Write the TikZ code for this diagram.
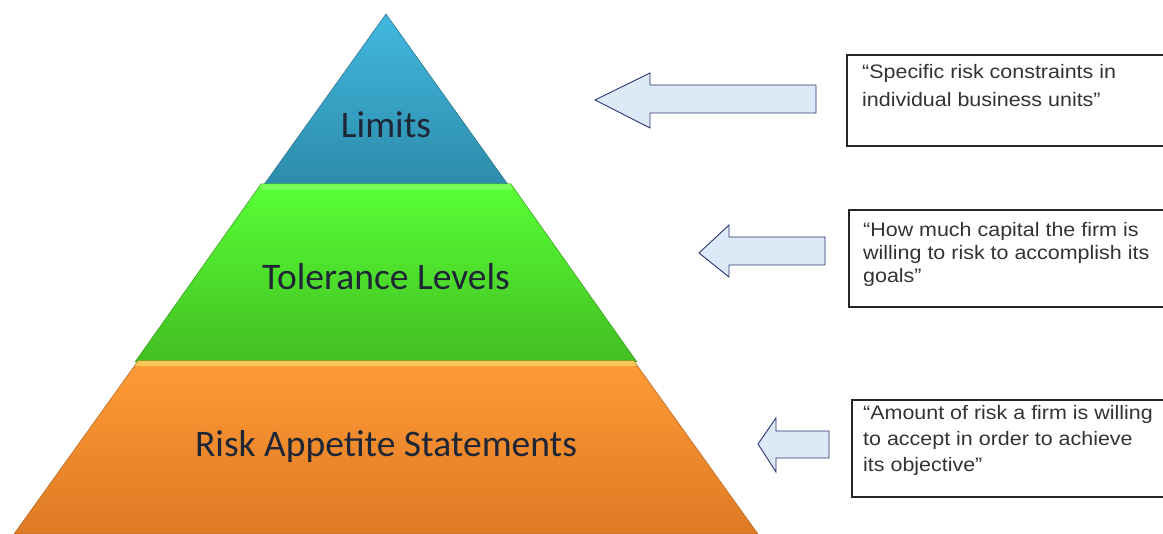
\documentclass[tikz,border=0pt]{standalone}
\usepackage{fontspec}
\setmainfont{Carlito}
\newfontfamily\boxfont[FakeStretch=1.1,Ligatures=NoCommon]{Liberation Sans}
\newfontfamily\pyrfont{Carlito}
\definecolor{limtop}{HTML}{41B8DE}
\definecolor{limbot}{HTML}{2D8BAA}
\definecolor{grntop}{HTML}{58FF36}
\definecolor{grnbot}{HTML}{43BE22}
\definecolor{grnhi}{HTML}{8CFF70}
\definecolor{orgtop}{HTML}{FF9B36}
\definecolor{orgbot}{HTML}{DE7A24}
\definecolor{orghi}{HTML}{F8D462}
\definecolor{arrfill}{HTML}{DDE9F7}
\definecolor{arrline}{HTML}{2B3576}
\definecolor{labtext}{HTML}{1E2636}
\begin{document}
\begin{tikzpicture}[x=1pt,y=-1pt,
  pyrlabel/.style={font=\pyrfont\fontsize{37.5}{40}\selectfont,text=labtext,inner sep=0pt},
  arrowshape/.style={fill=arrfill,draw=arrline,line width=0.9pt,line join=miter},
  quotebox/.style={draw=black!85,line width=1.3pt,fill=white},
  quoteline/.style={font=\boxfont\fontsize{19.5}{22}\selectfont,text=black!80,anchor=base west,inner sep=0pt}]
\useasboundingbox (0,0) rectangle (1163,534);
\fill[white] (0,0) rectangle (1163,534);
% pyramid tiers
\shade[top color=limtop,bottom color=limbot,draw=limbot!80!black,line width=0.5pt]
  (386,14) -- (509,186) -- (263,186) -- cycle;
\shade[top color=grntop,bottom color=grnbot,draw=grnbot!80!black,line width=0.5pt]
  (261,184) -- (511,184) -- (637,362) -- (135,362) -- cycle;
\fill[grnhi,opacity=0.6] (261,184) -- (511,184) -- (513,190) -- (259,190) -- cycle;
\shade[top color=orgtop,bottom color=orgbot,draw=orgbot!80!black,line width=0.5pt]
  (138,361) -- (634,361) -- (758,534) -- (14,534) -- cycle;
\fill[orghi,opacity=0.8] (138,361) -- (634,361) -- (637,366) -- (135,366) -- cycle;
% pyramid labels
\node[pyrlabel] (lim) at (386,125) {Limits};
\node[pyrlabel] (tol) at (386,277) {Tolerance Levels};
\node[pyrlabel] (rap) at (386,447) {Risk Appetite Statements};
% arrows
\draw[arrowshape] (595,100) -- (650,73) -- (650,85) -- (816,85) -- (816,113) -- (650,113) -- (650,128) -- cycle;
\draw[arrowshape] (699,253) -- (729,225) -- (729,237) -- (825,237) -- (825,265) -- (729,265) -- (729,277) -- cycle;
\draw[arrowshape] (758,444) -- (776,418) -- (776,431) -- (829,431) -- (829,458) -- (776,458) -- (776,472) -- cycle;
% quote boxes
\draw[quotebox] (847,55) rectangle (1175,146);
\draw[quotebox] (849,210) rectangle (1175,307);
\draw[quotebox] (852,400) rectangle (1175,497);
\node[quoteline] (q1a) at (862,79) {“Specific risk constraints in};
\node[quoteline] (q1b) at (862,107) {individual business units”};
\node[quoteline] (q2a) at (863,237) {“How much capital the firm is};
\node[quoteline] (q2b) at (863,260) {willing to risk to accomplish its};
\node[quoteline] (q2c) at (863,283) {goals”};
\node[quoteline] (q3a) at (863,420) {“Amount of risk a firm is willing};
\node[quoteline] (q3b) at (863,446) {to accept in order to achieve};
\node[quoteline] (q3c) at (863,472) {its objective”};
\end{tikzpicture}
\end{document}
